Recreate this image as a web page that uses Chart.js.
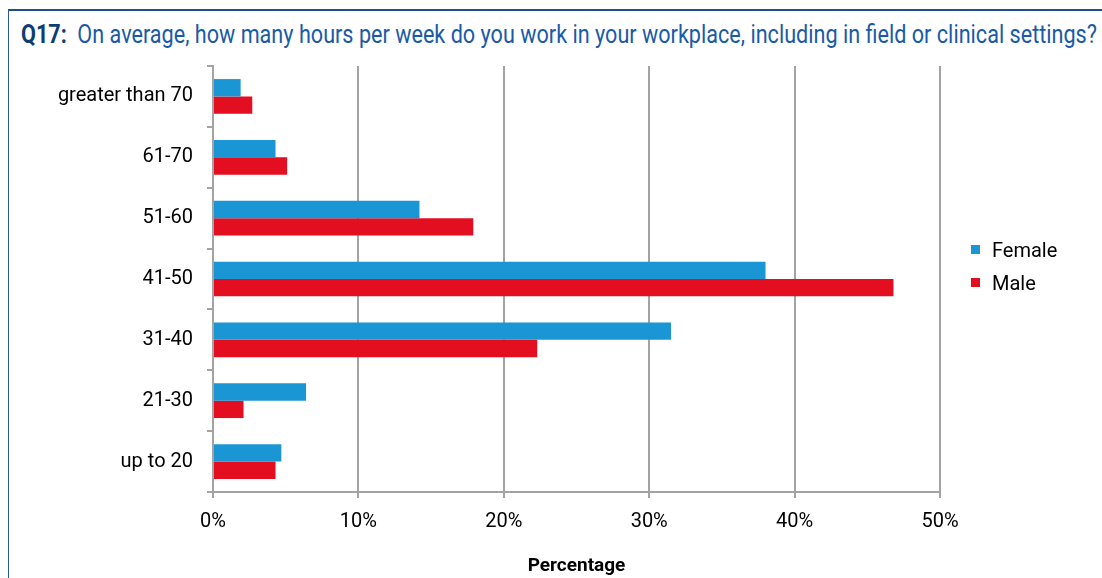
<!DOCTYPE html>
<html>
<head>
<meta charset="utf-8">
<script src="https://cdn.jsdelivr.net/npm/chart.js@4/dist/chart.umd.min.js"></script>
<style>
  html, body { margin: 0; padding: 0; background: #fff; }
  #wrap { position: relative; width: 1102px; height: 578px; overflow: hidden; }
  #frame { position: absolute; left: 8px; top: 9px; width: 1200px; height: 700px;
           border-left: 1.5px solid #2a5a8f; border-top: 2px solid #1f4f85; }
  #title { position: absolute; left: 21px; top: 20px; white-space: nowrap; transform-origin: 0 0;
           font-family: Roboto, "DejaVu Sans Condensed", sans-serif;
           font-size: 25px; color: #1a5aa6; }
  #title b { color: #0c3e73; margin-right: 6px; }
  #legend { position: absolute; left: 971px; top: 237px; transform-origin: 0 0;
            font-family: Roboto, "DejaVu Sans Condensed", sans-serif;
            font-size: 20px; color: #000; }
  #legend div { height: 33px; line-height: 26px; white-space: nowrap; }
  #legend span.sw { display: inline-block; width: 9px; height: 9px; margin-right: 12px; vertical-align: 3px; }
  canvas { position: absolute; left: 0; top: 0; }
</style>
</head>
<body>
<div id="wrap">
  <div id="frame"></div>
  <div id="title"><b>Q17:</b> On average, how many hours per week do you work in your workplace, including in field or clinical settings?</div>
  <canvas id="c" width="1102" height="578"></canvas>
  <div id="legend"></div>
</div>
<script>
const categories = ["greater than 70", "61-70", "51-60", "41-50", "31-40", "21-30", "up to 20"];
const femaleValues = [1.9, 4.3, 14.2, 38.0, 31.5, 6.4, 4.7];
const maleValues = [2.7, 5.1, 17.9, 46.8, 22.3, 2.1, 4.3];
const seriesNames = ["Female", "Male"];
const seriesColors = ["#1a96d4", "#e30e20"];
const xTicks = [0, 10, 20, 30, 40, 50];

const fontFam = 'Roboto, "DejaVu Sans Condensed", sans-serif';

// fit the title to the reference width
const titleEl = document.getElementById('title');
const tw = titleEl.getBoundingClientRect().width;
titleEl.style.transform = 'scaleX(' + (1076 / tw) + ')';

const legendEl = document.getElementById('legend');
seriesNames.forEach((n, i) => {
  const d = document.createElement('div');
  d.innerHTML = '<span class="sw" style="background:' + seriesColors[i] + '"></span>' + n;
  legendEl.appendChild(d);
});

new Chart(document.getElementById('c'), {
  type: 'bar',
  data: {
    labels: categories,
    datasets: [
      { label: seriesNames[0], data: femaleValues, backgroundColor: seriesColors[0],
        borderWidth: 0, barPercentage: 1.0, categoryPercentage: 0.57 },
      { label: seriesNames[1], data: maleValues, backgroundColor: seriesColors[1],
        borderWidth: 0, barPercentage: 1.0, categoryPercentage: 0.57 }
    ]
  },
  options: {
    indexAxis: 'y',
    responsive: false,
    animation: false,
    devicePixelRatio: 1,
    layout: { padding: { left: 9, top: 66, right: 162, bottom: 0 } },
    plugins: { legend: { display: false }, tooltip: { enabled: false }, title: { display: false } },
    scales: {
      x: {
        min: 0, max: 50,
        afterFit: (s) => { s.height = 86; },
        afterBuildTicks: (s) => { s.ticks = xTicks.map(v => ({ value: v })); },
        ticks: {
          callback: (v) => v + '%',
          color: '#000', padding: 12,
          font: { family: fontFam, size: 20 }
        },
        grid: { color: '#a3a3a3', lineWidth: 2, tickLength: 6, drawTicks: true },
        border: { color: '#a3a3a3', width: 2 },
        title: { display: true, text: 'Percentage', color: '#000',
                 font: { family: fontFam, size: 19, weight: 'bold' }, padding: { top: 12, bottom: 0 } }
      },
      y: {
        afterFit: (s) => { s.width = 204; },
        ticks: { color: '#000', padding: 14, font: { family: fontFam, size: 20 } },
        grid: { offset: true, drawOnChartArea: false, drawTicks: true, tickLength: 6, color: '#a3a3a3', lineWidth: 2 },
        border: { color: '#a3a3a3', width: 2 }
      }
    }
  }
});
</script>
</body>
</html>
